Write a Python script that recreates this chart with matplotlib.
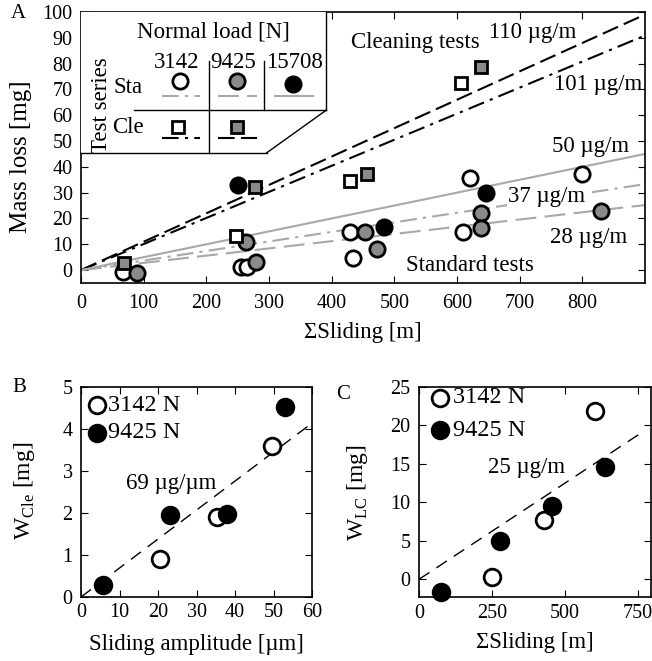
import numpy as np
import matplotlib
matplotlib.use('Agg')
import matplotlib.pyplot as plt
from matplotlib.patches import Polygon

plt.rcParams['font.family'] = ['Liberation Serif', 'DejaVu Serif']
plt.rcParams['mathtext.fontset'] = 'custom'
plt.rcParams['mathtext.rm'] = 'Liberation Serif'
plt.rcParams['font.size'] = 16.5
plt.rcParams['xtick.labelsize'] = 14.5
plt.rcParams['ytick.labelsize'] = 14.5
plt.rcParams['xtick.direction'] = 'in'
plt.rcParams['ytick.direction'] = 'in'
plt.rcParams['xtick.top'] = True
plt.rcParams['ytick.right'] = True
plt.rcParams['xtick.major.size'] = 5
plt.rcParams['ytick.major.size'] = 5
plt.rcParams['ytick.major.pad'] = 6

# Panel A: mass loss vs accumulated sliding
sta_3142_x = [67, 255, 265, 429, 434, 609, 621, 800]
sta_3142_y = [-0.8, 1.2, 1.2, 14.8, 4.7, 14.8, 35.8, 37.4]
sta_9425_x = [89, 263, 280, 453, 473, 639, 639, 830]
sta_9425_y = [-1.2, 11, 3, 14.8, 8.2, 22.2, 16.3, 23]
sta_15708_x = [250, 483, 647]
sta_15708_y = [33, 16.7, 30]
cle_3142_x = [248, 429, 606]
cle_3142_y = [13.2, 34.6, 72.4]
cle_9425_x = [68, 277, 456, 639]
cle_9425_y = [2.7, 32.3, 37.4, 78.6]
# fitted wear rates [ug/m]
rate_cle_9425 = 110
rate_cle_3142 = 101
rate_sta_15708 = 50
rate_sta_3142 = 37
rate_sta_9425 = 28

# Panel B: cleaning wear vs sliding amplitude
b_3142_x = [20.6, 35.4, 49.5]
b_3142_y = [0.9, 1.9, 3.6]
b_9425_x = [5.8, 23, 37.8, 53]
b_9425_y = [0.29, 1.95, 1.98, 4.53]
rate_b = 69  # ug/um

# Panel C: W_LC vs accumulated sliding
c_3142_x = [250, 428, 603]
c_3142_y = [0.3, 7.7, 21.9]
c_9425_x = [75, 277, 455, 637]
c_9425_y = [-1.7, 5.0, 9.5, 14.6]
rate_c = 25  # ug/m

GRAYFILL = '#8a8a8a'
GRAYLINE = '#a8a8a8'
DASH = (8, 3)
DASHDOT = (8, 3, 1.5, 3)

W, H = 652, 661
fig = plt.figure(figsize=(W / 100, H / 100), dpi=100)

def px_axes(l, t, r, b):
    return fig.add_axes([l / W, 1 - b / H, (r - l) / W, (b - t) / H])

open_c = dict(marker='o', ms=11, mfc='white', mec='black', mew=2, ls='none')
gray_c = dict(marker='o', ms=11, mfc=GRAYFILL, mec='black', mew=2, ls='none')
black_c = dict(marker='o', ms=11, mfc='black', mec='black', mew=2, ls='none')
open_s = dict(marker='s', ms=9, mfc='white', mec='black', mew=2, ls='none')
gray_s = dict(marker='s', ms=9, mfc=GRAYFILL, mec='black', mew=2, ls='none')

# ---------------- A ----------------
ax = px_axes(81, 12, 645, 283)
xx = np.array([0, 900])
ax.plot(xx, rate_cle_9425 / 1000 * xx, color='k', lw=1.5, dashes=DASH)
ax.plot(xx, rate_cle_3142 / 1000 * xx, color='k', lw=1.5, dashes=DASHDOT)
ax.plot(xx, rate_sta_15708 / 1000 * xx, color=GRAYLINE, lw=1.5)
ax.plot(xx, rate_sta_3142 / 1000 * xx, color=GRAYLINE, lw=1.5, dashes=DASHDOT)
ax.plot(xx, rate_sta_9425 / 1000 * xx, color=GRAYLINE, lw=1.5, dashes=(10, 4))

ax.plot(sta_3142_x, sta_3142_y, clip_on=False, **open_c)
ax.plot(sta_9425_x, sta_9425_y, clip_on=False, **gray_c)
ax.plot(sta_15708_x, sta_15708_y, clip_on=False, **black_c)
ax.plot(cle_3142_x, cle_3142_y, clip_on=False, **open_s)
ax.plot(cle_9425_x, cle_9425_y, clip_on=False, **gray_s)

ax.set_xlim(0, 900)
ax.set_ylim(-5, 100)
ax.set_xticks(np.arange(0, 801, 100))
ax.set_yticks(np.arange(0, 101, 10))
ax.tick_params(axis='x', pad=8)
ax.set_xlabel('ΣSliding [m]', fontsize=16.5)
ax.set_ylabel('Mass loss [mg]', fontsize=18)
ax.xaxis.set_label_coords(0.5, -0.145)
ax.yaxis.set_label_coords(-0.087, 0.465)

ax.text(534, 88.3, 'Cleaning tests', ha='center', va='center')
ax.text(720, 92.2, '110 µg/m', ha='center', va='center')
ax.text(825, 72, '101 µg/m', ha='center', va='center')
ax.text(813, 47.9, '50 µg/m', ha='center', va='center')
ax.text(743, 28.4, '37 µg/m', ha='center', va='center',
        bbox=dict(fc='white', ec='none', pad=0.5))
ax.text(810, 12.8, '28 µg/m', ha='center', va='center')
ax.text(621, 1.9, 'Standard tests', ha='center', va='center')

# legend table in the upper left corner (axes fractions)
T = ax.transAxes
x0, x1, x2, x3, x4 = 0.0, 0.094, 0.227, 0.325, 0.435
yb, ym, yt = 0.48, 0.638, 0.82
ax.add_patch(Polygon([(0, 1), (x4, 1), (x4, ym), (0.329, yb), (0, yb)],
                     closed=True, transform=T, fc='white', ec='none', zorder=5))
kw = dict(transform=T, color='k', lw=1, zorder=6, clip_on=False)
ax.plot([x0, 0.329], [yb, yb], **kw)
ax.plot([0.329, x4], [yb, ym], **kw)
ax.plot([x4, x4], [ym, 1], **kw)
ax.plot([x1, x4], [ym, ym], **kw)
ax.plot([x2, x2], [yb, yt], **kw)
ax.plot([x3, x3], [ym, yt], **kw)

ax.text(0.234, 0.926, 'Normal load [N]', transform=T, ha='center', va='center', zorder=7)
ax.text(0.170, 0.815, '3142', transform=T, ha='center', va='center', zorder=7)
ax.text(0.270, 0.815, '9425', transform=T, ha='center', va='center', zorder=7)
ax.text(0.378, 0.815, '15708', transform=T, ha='center', va='center', zorder=7)
ax.text(0.083, 0.72, 'Sta', transform=T, ha='center', va='center', zorder=7)
ax.text(0.083, 0.575, 'Cle', transform=T, ha='center', va='center', zorder=7)
ax.text(0.037, 0.655, 'Test series', transform=T, ha='center', va='center',
        rotation=90, zorder=7)

mk = dict(transform=T, zorder=7, clip_on=False)
ax.plot([0.176], [0.745], **open_c, **mk)
ax.plot([0.277], [0.745], **gray_c, **mk)
ax.plot([0.376], [0.735], **black_c, **mk)
ax.plot([0.172], [0.575], **open_s, **mk)
ax.plot([0.277], [0.575], **gray_s, **mk)
ax.plot([0.143, 0.211], [0.69, 0.69], color=GRAYLINE, lw=1.5, dashes=DASHDOT, **mk)
ax.plot([0.243, 0.312], [0.69, 0.69], color=GRAYLINE, lw=1.5, dashes=(10, 4), **mk)
ax.plot([0.344, 0.411], [0.69, 0.69], color=GRAYLINE, lw=1.5, **mk)
ax.plot([0.143, 0.211], [0.535, 0.535], color='k', lw=1.5, dashes=DASHDOT, **mk)
ax.plot([0.243, 0.312], [0.535, 0.535], color='k', lw=1.5, dashes=DASH, **mk)

# ---------------- B ----------------
bx = px_axes(81, 387, 312, 597)
xb = np.array([0, 60])
bx.plot(xb, rate_b / 1000 * xb, color='k', lw=1, dashes=(9, 6))
bx.plot(b_3142_x, b_3142_y, clip_on=False, **dict(open_c, ms=12))
bx.plot(b_9425_x, b_9425_y, clip_on=False, **dict(black_c, ms=12))
bx.set_xlim(0, 60)
bx.set_ylim(0, 5)
bx.set_xticks(np.arange(0, 61, 10))
bx.set_yticks(np.arange(0, 6, 1))
bx.tick_params(axis='x', pad=4)
bx.set_xlabel('Sliding amplitude [µm]', fontsize=16.5)
bx.set_ylabel(r'W$_{\mathregular{Cle}}$ [mg]', fontsize=17)
bx.xaxis.set_label_coords(0.5, -0.175)
bx.yaxis.set_label_coords(-0.19, 0.505)
bx.text(23.4, 2.7, '69 µg/µm', ha='center', va='center')
bx.plot([0.069], [0.914], transform=bx.transAxes, **dict(open_c, ms=12))
bx.plot([0.069], [0.781], transform=bx.transAxes, **dict(black_c, ms=12))
bx.text(0.115, 0.914, '3142 N', transform=bx.transAxes, va='center', fontsize=17.5)
bx.text(0.115, 0.781, '9425 N', transform=bx.transAxes, va='center', fontsize=17.5)

# ---------------- C ----------------
cx = px_axes(419, 387, 651, 597)
xc = np.array([0, 760])
cx.plot(xc, rate_c / 1000 * xc, color='k', lw=1, dashes=(9, 6))
cx.plot(c_3142_x, c_3142_y, clip_on=False, **dict(open_c, ms=12))
cx.plot(c_9425_x, c_9425_y, clip_on=False, **dict(black_c, ms=12))
cx.set_xlim(0, 795)
cx.set_ylim(-2.3, 25)
cx.set_xticks([0, 250, 500, 750])
cx.set_yticks(np.arange(0, 26, 5))
cx.tick_params(axis='x', pad=5)
cx.set_xlabel('ΣSliding [m]', fontsize=16.5)
cx.set_ylabel(r'W$_{\mathregular{LC}}$ [mg]', fontsize=17)
cx.xaxis.set_label_coords(0.5, -0.165)
cx.yaxis.set_label_coords(-0.21, 0.495)
cx.text(370, 14.6, '25 µg/m', ha='center', va='center')
cx.plot([0.09], [0.948], transform=cx.transAxes, **dict(open_c, ms=12))
cx.plot([0.09], [0.795], transform=cx.transAxes, **dict(black_c, ms=12))
cx.text(0.145, 0.948, '3142 N', transform=cx.transAxes, va='center', fontsize=17.5)
cx.text(0.145, 0.795, '9425 N', transform=cx.transAxes, va='center', fontsize=17.5)

for a in (ax, bx, cx):
    for s in a.spines.values():
        s.set_linewidth(1.2)

fig.text(18 / W, 1 - 14 / H, 'A', ha='center', va='center', fontsize=15)
fig.text(19 / W, 1 - 388 / H, 'B', ha='center', va='center', fontsize=15)
fig.text(343 / W, 1 - 395 / H, 'C', ha='center', va='center', fontsize=15)

fig.savefig('out.png', dpi=100)
